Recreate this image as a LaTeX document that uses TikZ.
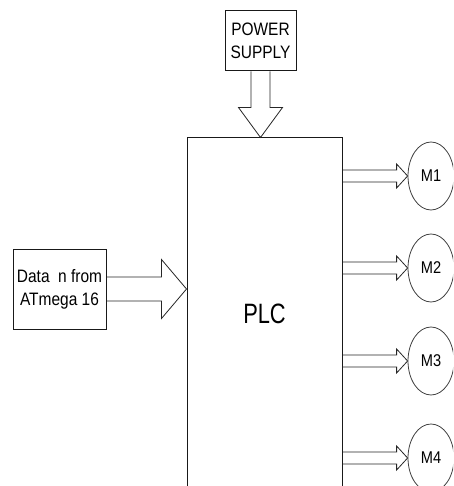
\documentclass[tikz,border=0pt]{standalone}
\usepackage{fontspec}
\newfontfamily\diagfont{Liberation Sans}[FakeStretch=0.86]
\newfontfamily\plcfont{Liberation Sans}[FakeStretch=0.78]
\usetikzlibrary{calc,positioning,shapes.geometric}
\tikzset{
  basebox/.style={rectangle,draw=black!90,line width=1pt,align=center,inner sep=0pt},
  srcbox/.style={basebox,font=\diagfont\fontsize{18}{23}\selectfont},
  plcbox/.style={basebox,font=\plcfont\fontsize{28}{32}\selectfont},
  motornode/.style={ellipse,draw=black!75,line width=0.8pt,minimum width=46pt,
                    minimum height=68pt,inner sep=0pt,
                    font=\diagfont\fontsize{17}{20}\selectfont},
  blockarr/.style={draw=black!85,line width=0.8pt,line join=miter}
}
% hollow block arrow: from, to, shaft half width, head half width, head length
\newcommand{\blockarrow}[5]{%
  \coordinate (ba-base) at ($(#2)!#5!(#1)$);
  \draw[blockarr] ($(#1)!#3!90:(#2)$) -- ($(ba-base)!#3!90:(#2)$)
    -- ($(ba-base)!#4!90:(#2)$) -- (#2) -- ($(ba-base)!#4!-90:(#2)$)
    -- ($(ba-base)!#3!-90:(#2)$) -- ($(#1)!#3!-90:(#2)$);
}

\begin{document}
\begin{tikzpicture}[x=1pt,y=-1pt]
  \useasboundingbox (0,0) rectangle (453,486);
  \clip (0,0) rectangle (453,486);

  \node[srcbox,minimum width=71pt,minimum height=60pt] (power) at (260.5,41)
      {POWER\\SUPPLY};
  \node[plcbox,minimum width=155pt,minimum height=352pt] (plc) at (264.5,314) {PLC};
  \node[srcbox,minimum width=93pt,minimum height=80pt] (atmega) at (59.5,289)
      {Data\ \ n from\\ATmega 16};

  \node[motornode] (m1) at (431,176) {M1};
  \node[motornode] (m2) at (431,268) {M2};
  \node[motornode] (m3) at (431,361) {M3};
  \node[motornode] (m4) at (431,458) {M4};

  \coordinate (pwr-in) at (power.south |- plc.north);
  \coordinate (data-in) at (plc.west |- atmega.east);
  \blockarrow{power.south}{pwr-in}{9.5pt}{22pt}{30pt}
  \blockarrow{atmega.east}{data-in}{12pt}{29.5pt}{25pt}

  \foreach \m in {m1,m2,m3,m4}{
    \coordinate (\m-out) at (plc.east |- \m.west);
    \blockarrow{\m-out}{\m.west}{6pt}{12pt}{11pt}
  }

\end{tikzpicture}
\end{document}
